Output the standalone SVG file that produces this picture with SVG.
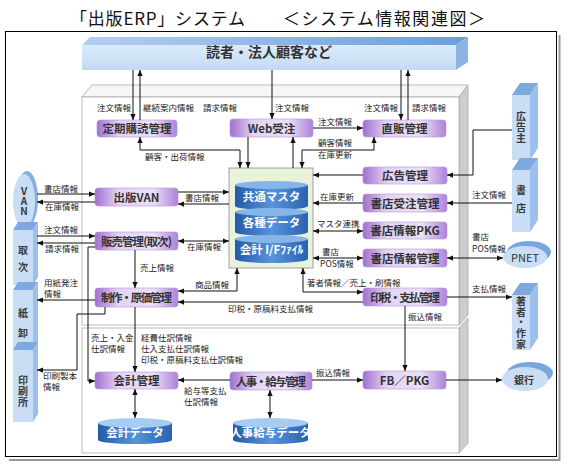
<svg xmlns="http://www.w3.org/2000/svg" width="567" height="468" viewBox="0 0 567 468">
<style>
.j{font-family:"Noto Sans CJK JP","Noto Sans",sans-serif}
.lbl{font-family:"Noto Sans CJK JP","Noto Sans",sans-serif;font-size:8.5px;fill:#222}
.nd{font-family:"Noto Sans CJK JP","Noto Sans",sans-serif;font-size:11.5px;font-weight:bold;fill:#333;text-anchor:middle}
.cy{font-family:"Noto Sans CJK JP","Noto Sans",sans-serif;font-size:11.5px;font-weight:bold;fill:#fff;text-anchor:middle}
.ent{font-family:"Noto Sans CJK JP","Noto Sans",sans-serif;font-size:10px;font-weight:bold;fill:#3a3a3a;text-anchor:middle}
.vt{writing-mode:vertical-rl;text-orientation:upright}
.box{fill:url(#pg);stroke:#b596d8;stroke-width:0.6}
.c{fill:none;stroke:#111;stroke-width:1}
.e{marker-end:url(#ah)}
.b{marker-start:url(#ah);marker-end:url(#ah)}
.bf{fill:#c9ddf4}
.bt{fill:#7ea8e0}
.bs{fill:#9dbfeb}
</style>
<defs>
<linearGradient id="pg" x1="0" y1="0" x2="1" y2="0">
<stop offset="0" stop-color="#a06fd0"/>
<stop offset="0.28" stop-color="#e3d3f4"/>
<stop offset="0.7" stop-color="#ebe0f7"/>
<stop offset="1" stop-color="#ad82d8"/>
</linearGradient>
<linearGradient id="cb" x1="0" y1="0" x2="1" y2="0">
<stop offset="0" stop-color="#2459a6"/>
<stop offset="0.5" stop-color="#5794dc"/>
<stop offset="1" stop-color="#2a62b0"/>
</linearGradient>
<linearGradient id="barF" x1="0" y1="0" x2="0" y2="1">
<stop offset="0" stop-color="#dcebfb"/>
<stop offset="1" stop-color="#c3daf4"/>
</linearGradient>
<linearGradient id="barT" x1="0" y1="0" x2="1" y2="0">
<stop offset="0" stop-color="#b3cff0"/>
<stop offset="1" stop-color="#6c9ddb"/>
</linearGradient>
<marker id="ah" viewBox="0 0 8 8" refX="8" refY="4" markerWidth="6" markerHeight="6" orient="auto-start-reverse" markerUnits="userSpaceOnUse">
<path d="M0,0.5 L8,4 L0,7.5 z" fill="#111"/>
</marker>
</defs>
<rect width="567" height="468" fill="#fff"/>

<!-- title -->
<text class="j" x="70" y="25" font-size="17" textLength="175" fill="#111">「出版ERP」システム</text>
<text class="j" x="283" y="25" font-size="17" textLength="202" fill="#111">＜システム情報関連図＞</text>

<!-- outer frame -->
<polyline points="9,460 559.5,460 559.5,35" fill="none" stroke="#999" stroke-width="2"/>
<rect x="5.5" y="31.5" width="551" height="425" fill="#fff" stroke="#000" stroke-width="1"/>

<!-- top bar -->
<g id="readers">
<polygon points="82,45 90,37 468,37 456,45" fill="url(#barT)"/>
<polygon points="456,45 468,37 468,62 456,70" fill="#8cb3e6"/>
<rect x="82" y="45" width="374" height="25" fill="url(#barF)"/>
<text class="j" x="269" y="57" font-size="14" font-weight="bold" fill="#333" text-anchor="middle">読者・法人顧客など</text>
</g>

<!-- panels -->
<g id="panel-upper">
<polygon points="82,97 92,85 468,85 459,97" fill="#f6f6f6" stroke="#aaa" stroke-width="0.8"/>
<polygon points="459,97 468,85 468,315 459,325" fill="#cdcdcd" stroke="#aaa" stroke-width="0.8"/>
<rect x="82" y="97" width="377" height="228" fill="#fff" stroke="#aaa" stroke-width="0.8"/>
</g>
<g id="panel-lower">
<polygon points="459,328 468,318 468,443 459,453" fill="#cdcdcd" stroke="#aaa" stroke-width="0.8"/>
<rect x="82" y="328" width="377" height="125" fill="#fff" stroke="#aaa" stroke-width="0.8"/>
</g>

<!-- left entities -->
<g id="e-van">
<ellipse cx="27" cy="199" rx="11" ry="28" fill="#86aee3"/>
<ellipse cx="24" cy="201" rx="11" ry="27" class="bf"/>
<text class="ent vt" x="24" y="201">VAN</text>
</g>
<g id="e-toritsugi">
<polygon points="13,230 18,222 38,222 33,230" class="bt"/>
<polygon points="33,230 38,222 38,277 33,285" class="bs"/>
<rect x="13" y="230" width="20" height="55" class="bf"/>
<text class="ent vt" x="23" y="262" letter-spacing="7">取次</text>
</g>
<g id="e-kamioroshi">
<polygon points="13,290 18,282 38,282 33,290" class="bt"/>
<polygon points="33,290 38,282 38,345 33,353" class="bs"/>
<rect x="13" y="290" width="20" height="63" class="bf"/>
<text class="ent vt" x="23" y="328" letter-spacing="10">紙卸</text>
</g>
<g id="e-insatsu">
<polygon points="13,350 18,342 38,342 33,350" class="bt"/>
<polygon points="33,350 38,342 38,414 33,422" class="bs"/>
<rect x="13" y="350" width="20" height="72" class="bf"/>
<text class="ent vt" x="23" y="392" letter-spacing="1">印刷所</text>
</g>

<!-- right entities -->
<g id="e-koukokunushi">
<polygon points="512,95 520,83 538,83 530,95" class="bt"/>
<polygon points="530,95 538,83 538,148 530,160" class="bs"/>
<rect x="512" y="95" width="18" height="65" class="bf"/>
<text class="ent vt" x="521" y="128" letter-spacing="1">広告主</text>
</g>
<g id="e-shoten">
<polygon points="512,170 520,158 538,158 530,170" class="bt"/>
<polygon points="530,170 538,158 538,220 530,232" class="bs"/>
<rect x="512" y="170" width="18" height="62" class="bf"/>
<text class="ent vt" x="521" y="203" letter-spacing="8">書店</text>
</g>
<g id="e-pnet">
<ellipse cx="529" cy="252" rx="22" ry="11" fill="#7aa6e0"/>
<ellipse cx="525" cy="257" rx="22" ry="11" class="bf"/>
<text class="j" x="525" y="262" font-size="11" fill="#333" text-anchor="middle">PNET</text>
</g>
<g id="e-chosha">
<polygon points="512,295 520,283 538,283 530,295" class="bt"/>
<polygon points="530,295 538,283 538,338 530,350" class="bs"/>
<rect x="512" y="295" width="18" height="55" class="bf"/>
<text class="ent vt" x="521" y="323" letter-spacing="0.7">著者・作家</text>
</g>
<g id="e-ginkou">
<ellipse cx="530" cy="373" rx="23" ry="11" fill="#7aa6e0"/>
<ellipse cx="525" cy="379" rx="23" ry="12" class="bf"/>
<text class="ent" x="524" y="384">銀行</text>
</g>

<!-- central DB -->
<g id="db">
<rect x="229" y="168" width="84" height="100" fill="#e9f2dd" stroke="#8a8a8a" stroke-width="0.8"/>
<g>
<rect x="235" y="185" width="73" height="21" fill="url(#cb)"/>
<ellipse cx="271.5" cy="206" rx="36.5" ry="4" fill="url(#cb)"/>
<ellipse cx="271.5" cy="185" rx="36.5" ry="4" fill="#86b5ea"/>
<text class="cy" x="271.5" y="201">共通マスタ</text>
</g>
<g>
<rect x="235" y="212" width="73" height="20" fill="url(#cb)"/>
<ellipse cx="271.5" cy="232" rx="36.5" ry="4" fill="url(#cb)"/>
<ellipse cx="271.5" cy="212" rx="36.5" ry="4" fill="#86b5ea"/>
<text class="cy" x="271.5" y="227">各種データ</text>
</g>
<g>
<rect x="235" y="239" width="73" height="20" fill="url(#cb)"/>
<ellipse cx="271.5" cy="259" rx="36.5" ry="4" fill="url(#cb)"/>
<ellipse cx="271.5" cy="239" rx="36.5" ry="4" fill="#86b5ea"/>
<text class="cy" x="271.5" y="254" font-size="10.5px">会計 I/Fﾌｧｲﾙ</text>
</g>
</g>

<!-- bottom DB cylinders -->
<g id="kaikei-data">
<rect x="98" y="423" width="74" height="17" fill="url(#cb)"/>
<ellipse cx="135" cy="440" rx="37" ry="4" fill="url(#cb)"/>
<ellipse cx="135" cy="423" rx="37" ry="5" fill="#a6ccf1"/>
<text class="cy" x="135" y="437" font-size="11px">会計データ</text>
</g>
<g id="jinji-data">
<rect x="233" y="423" width="75" height="17" fill="url(#cb)"/>
<ellipse cx="270.5" cy="440" rx="37.5" ry="4" fill="url(#cb)"/>
<ellipse cx="270.5" cy="423" rx="37.5" ry="5" fill="#a6ccf1"/>
<text class="cy" x="270.5" y="437" font-size="10px">人事給与データ</text>
</g>

<!-- process nodes -->
<g id="n-teiki"><rect class="box" x="97" y="120" width="80" height="17" rx="3"/><text class="nd" x="137" y="133">定期購読管理</text></g>
<g id="n-web"><rect class="box" x="230" y="119" width="83" height="18" rx="3"/><text class="nd" x="271.5" y="132.5">Web受注</text></g>
<g id="n-chokuhan"><rect class="box" x="363" y="120" width="83" height="17" rx="3"/><text class="nd" x="404.5" y="133">直販管理</text></g>
<g id="n-koukoku"><rect class="box" x="363" y="167" width="84" height="17" rx="3"/><text class="nd" x="405" y="180">広告管理</text></g>
<g id="n-shoten-juchu"><rect class="box" x="363" y="194" width="84" height="18" rx="3"/><text class="nd" x="405" y="207.5">書店受注管理</text></g>
<g id="n-shoten-pkg"><rect class="box" x="363" y="222" width="84" height="17" rx="3"/><text class="nd" x="405" y="235">書店情報PKG</text></g>
<g id="n-shoten-joho"><rect class="box" x="363" y="249" width="84" height="18" rx="3"/><text class="nd" x="405" y="262.5">書店情報管理</text></g>
<g id="n-inzei"><rect class="box" x="363" y="288" width="84" height="18" rx="3"/><text class="nd" x="405" y="301.5" textLength="70">印税・支払管理</text></g>
<g id="n-van"><rect class="box" x="95" y="188" width="83" height="18" rx="3"/><text class="nd" x="136.5" y="201.5">出版VAN</text></g>
<g id="n-hanbai"><rect class="box" x="95" y="232" width="83" height="18" rx="3"/><text class="nd" x="136.5" y="245.5" textLength="71">販売管理(取次)</text></g>
<g id="n-seisaku"><rect class="box" x="95" y="288" width="83" height="19" rx="3"/><text class="nd" x="136.5" y="302" textLength="71">制作・原価管理</text></g>
<g id="n-kaikei"><rect class="box" x="95" y="372" width="83" height="17" rx="3"/><text class="nd" x="136.5" y="385">会計管理</text></g>
<g id="n-jinji"><rect class="box" x="230" y="372" width="82" height="18" rx="3"/><text class="nd" x="271" y="385.5" textLength="70">人事・給与管理</text></g>
<g id="n-fb"><rect class="box" x="363" y="371" width="83" height="18" rx="3"/><text class="nd" x="404.5" y="384.5" font-weight="normal">FB／PKG</text></g>

<!-- connectors -->
<g id="connectors">
<path class="c e" d="M133,70 V120"/>
<path class="c e" d="M140,120 V70"/>
<path class="c e" d="M272,70 V119"/>
<path class="c e" d="M401,70 V120"/>
<path class="c e" d="M408,120 V70"/>
<path class="c e" d="M313,128 H363"/>
<path class="c b" d="M140,137 V150 H240 V168"/>
<path class="c e" d="M248,137 V168"/>
<path class="c e" d="M293,168 V137"/>
<path class="c b" d="M302,168 V150 H374 V137"/>
<path class="c e" d="M512,130 H473 V175 H447"/>
<path class="c e" d="M363,175 H313"/>
<path class="c e" d="M363,203 H313"/>
<path class="c e" d="M512,203 H447"/>
<path class="c b" d="M313,231 H363"/>
<path class="c b" d="M313,258 H363"/>
<path class="c b" d="M447,258 H503"/>
<path class="c b" d="M303,268 V292 H363"/>
<path class="c e" d="M363,302 H178"/>
<path class="c e" d="M447,297 H512"/>
<path class="c e" d="M405,306 V371"/>
<path class="c e" d="M446,380 H502"/>
<path class="c e" d="M312,380 H363"/>
<path class="c e" d="M230,380 H178"/>
<path class="c b" d="M135,389 V418"/>
<path class="c b" d="M270,390 V418"/>
<path class="c e" d="M37,194 H95"/>
<path class="c e" d="M95,202 H37"/>
<path class="c e" d="M178,192 H229"/>
<path class="c e" d="M229,204 H178"/>
<path class="c e" d="M37,236 H95"/>
<path class="c e" d="M95,243 H37"/>
<path class="c b" d="M178,241 H229"/>
<path class="c e" d="M135,250 V288"/>
<path class="c e" d="M95,247 H88 V381 H95"/>
<path class="c e" d="M95,300 H37"/>
<path class="c e" d="M105,307 V314 H77 V370 H37"/>
<path class="c e" d="M135,307 V372"/>
<path class="c b" d="M178,291 H237 V268"/>
</g>

<!-- labels -->
<g id="labels">
<text class="lbl" x="97" y="111">注文情報</text>
<text class="lbl" x="143" y="111">継続案内情報</text>
<text class="lbl" x="203" y="111">請求情報</text>
<text class="lbl" x="275" y="111">注文情報</text>
<text class="lbl" x="364" y="111">注文情報</text>
<text class="lbl" x="412" y="111">請求情報</text>
<text class="lbl" x="318" y="125">注文情報</text>
<text class="lbl" x="145" y="160">顧客・出荷情報</text>
<text class="lbl" x="318" y="146">顧客情報</text>
<text class="lbl" x="318" y="158">在庫更新</text>
<text class="lbl" x="320" y="200">在庫更新</text>
<text class="lbl" x="472" y="198">注文情報</text>
<text class="lbl" x="317" y="227">マスタ連携</text>
<text class="lbl" x="322" y="255">書店</text>
<text class="lbl" x="320" y="267">POS情報</text>
<text class="lbl" x="472" y="240">書店</text>
<text class="lbl" x="472" y="252">POS情報</text>
<text class="lbl" x="307" y="286">著者情報／売上・刷情報</text>
<text class="lbl" x="228" y="312">印税・原稿料支払情報</text>
<text class="lbl" x="408" y="320">振込情報</text>
<text class="lbl" x="472" y="292">支払情報</text>
<text class="lbl" x="316" y="376">振込情報</text>
<text class="lbl" x="184" y="394">給与等支払</text>
<text class="lbl" x="184" y="405">仕訳情報</text>
<text class="lbl" x="91" y="341">売上・入金</text>
<text class="lbl" x="91" y="352">仕訳情報</text>
<text class="lbl" x="141" y="341">経費仕訳情報</text>
<text class="lbl" x="141" y="352">仕入支払仕訳情報</text>
<text class="lbl" x="141" y="363">印税・原稿料支払仕訳情報</text>
<text class="lbl" x="44" y="192">書店情報</text>
<text class="lbl" x="45" y="210">在庫情報</text>
<text class="lbl" x="185" y="201">書店情報</text>
<text class="lbl" x="44" y="233">注文情報</text>
<text class="lbl" x="45" y="252">請求情報</text>
<text class="lbl" x="187" y="250">在庫情報</text>
<text class="lbl" x="140" y="271">売上情報</text>
<text class="lbl" x="195" y="288">商品情報</text>
<text class="lbl" x="44" y="286" font-size="8px">用紙発注</text>
<text class="lbl" x="44" y="296.5" font-size="8px">情報</text>
<text class="lbl" x="43" y="379" font-size="8px">印刷製本</text>
<text class="lbl" x="43" y="389.5" font-size="8px">情報</text>
</g>
</svg>
